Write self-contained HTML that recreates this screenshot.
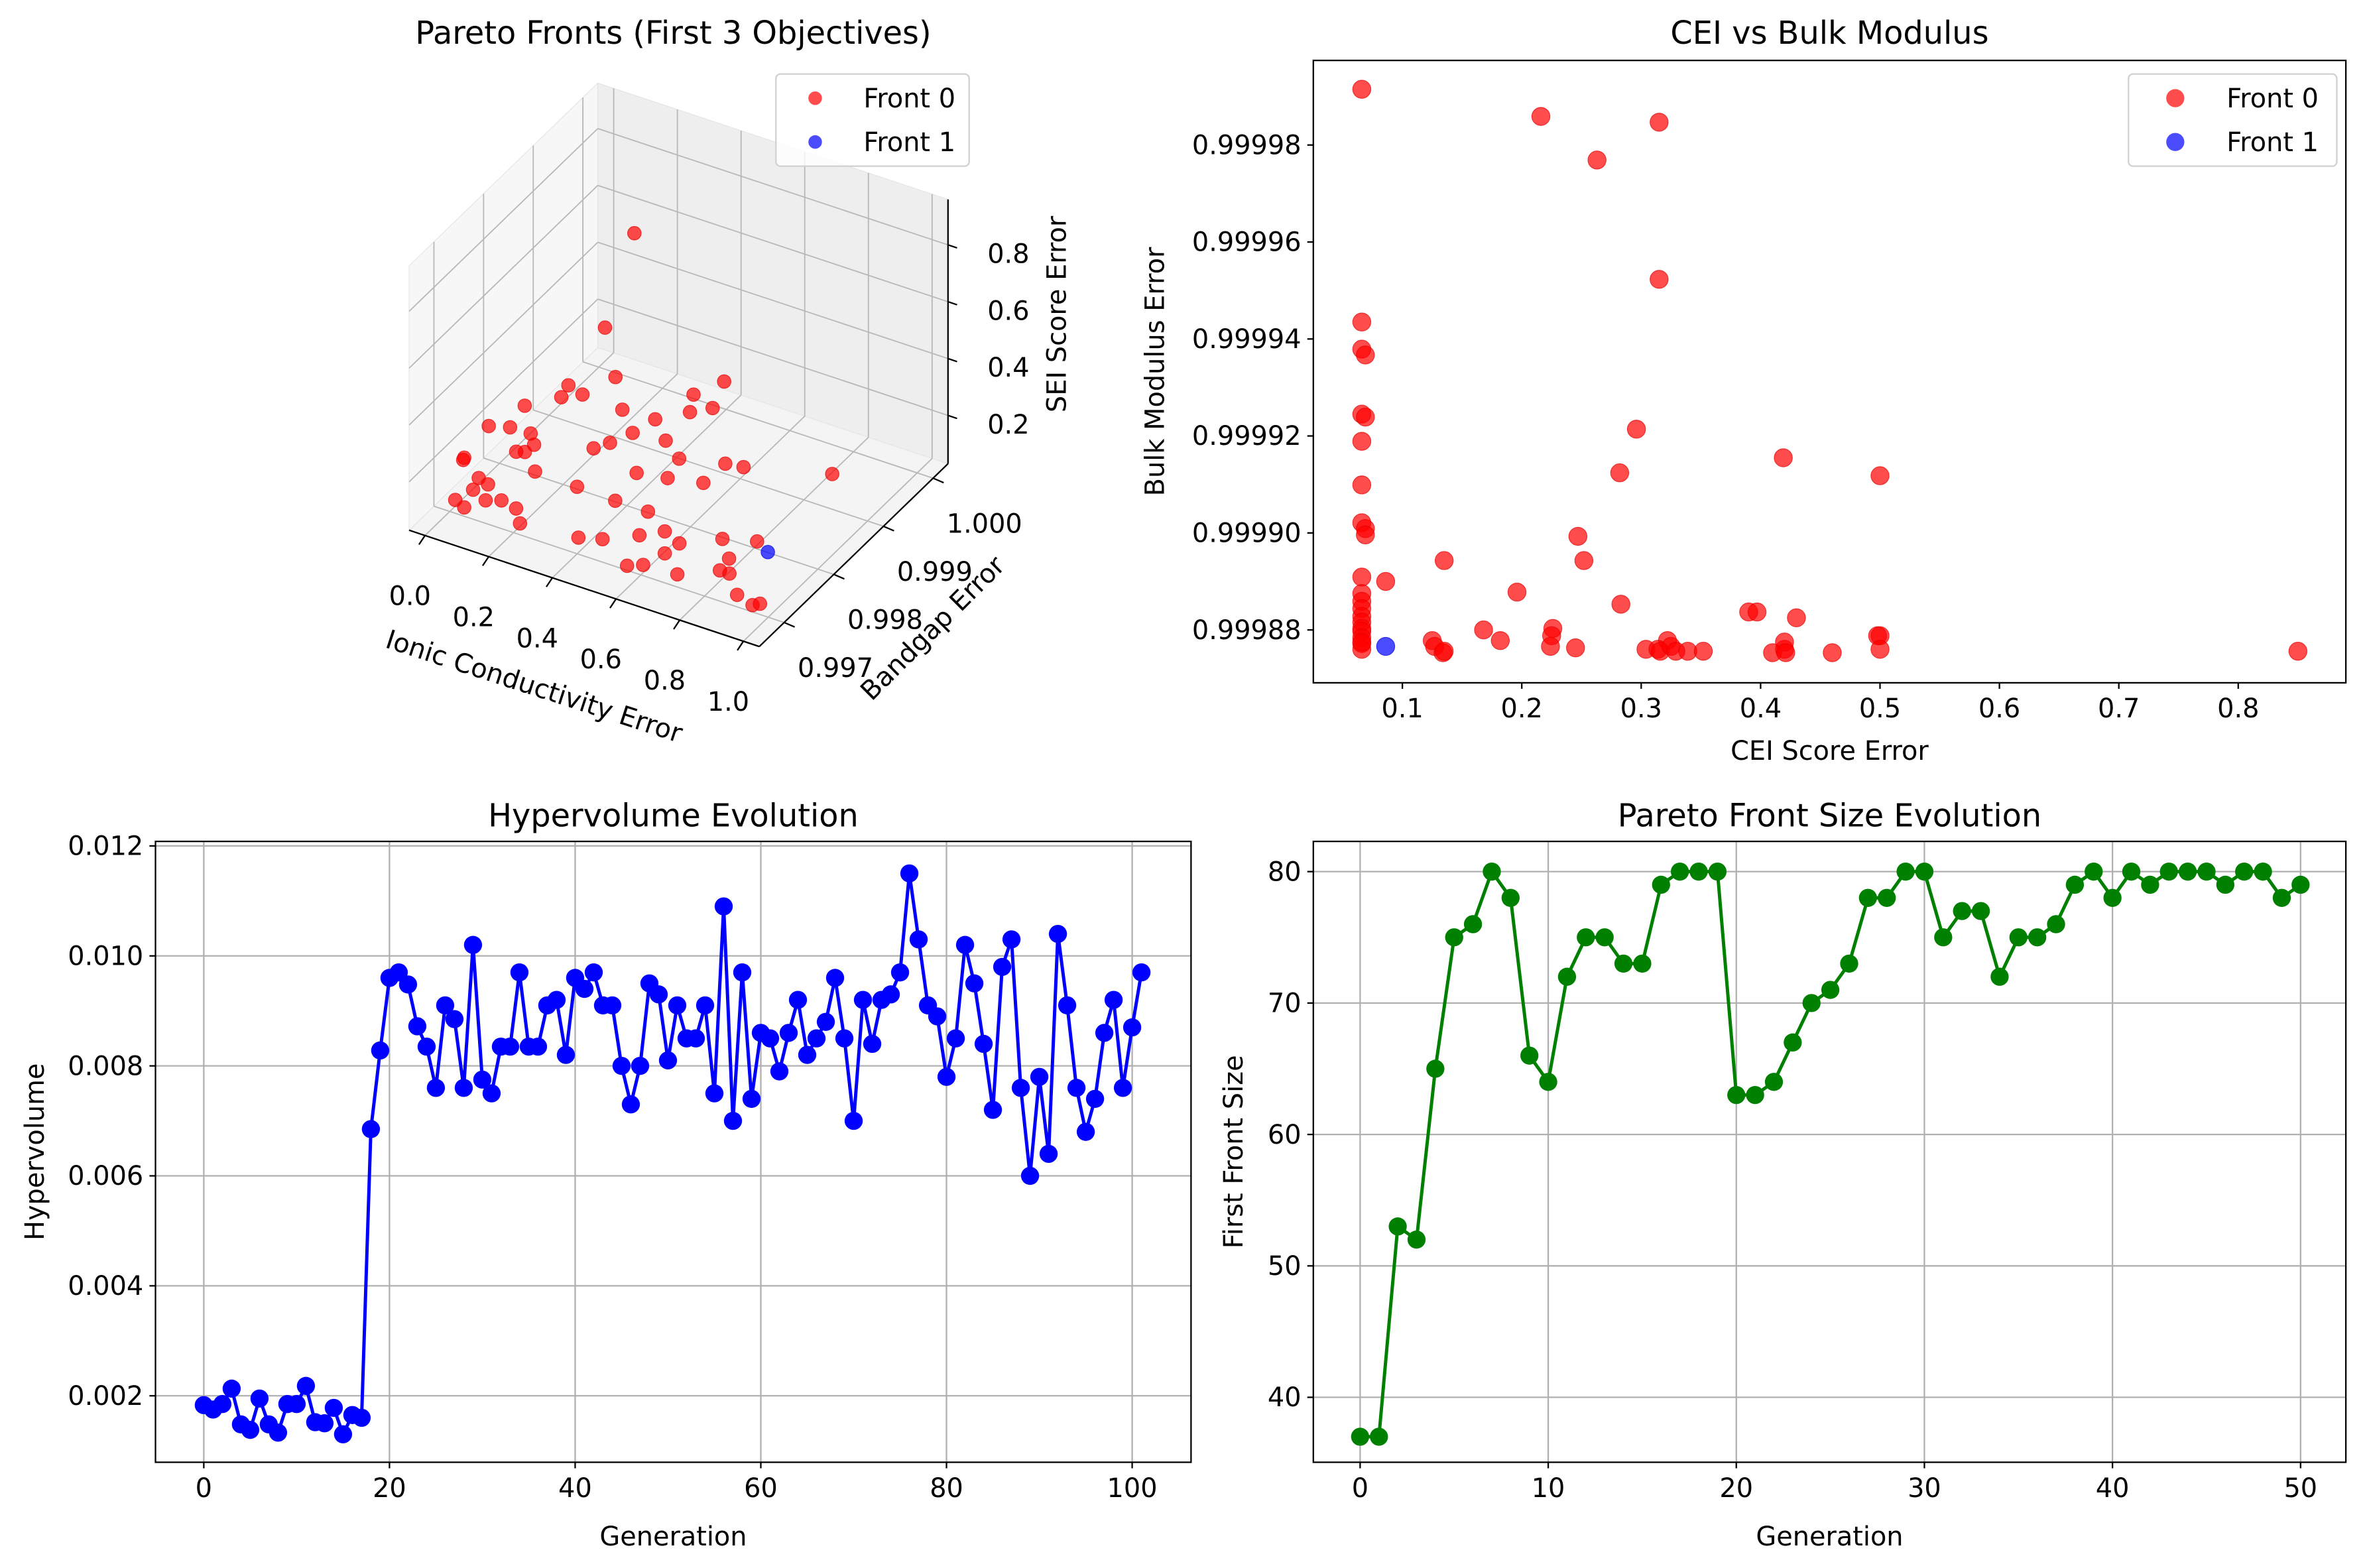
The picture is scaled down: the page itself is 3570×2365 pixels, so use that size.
<!DOCTYPE html>
<html><head><meta charset="utf-8"><title>Pareto optimisation results</title>
<style>
html,body{margin:0;padding:0;background:#fff;}
svg{display:block;font-family:"DejaVu Sans","Liberation Sans",sans-serif;}
</style></head>
<body>
<svg id="fig" xmlns="http://www.w3.org/2000/svg" width="3570" height="2365" viewBox="0 0 1568 1038" preserveAspectRatio="none">
<rect x="0" y="0" width="1568" height="1038" fill="#fff"/>
</svg>
<script>
// ---------- DATA ----------
// Panel 1: 3D Pareto fronts
const front0Ionic = [0.0,0.003,0.083,0.12,0.098,0.153,0.081,0.12,0.19,0.244,0.289,0.077,0.13,0.193,0.132,0.128,0.107,0.112,0.165,0.177,0.22,0.255,0.199,0.28,0.305,0.334,0.45,0.35,0.48,0.514,0.52,0.557,0.43,0.505,0.625,0.676,0.62,0.525,0.44,0.56,0.457,0.334,0.46,0.52,0.597,0.647,0.71,0.80,0.887,0.78,0.58,0.643,0.863,0.9,0.935,0.996,1.01,0.9,0.70,0.87,0.302,0.269];
const front0Bandgap = [0.99729,0.99725,0.99705,0.9970,0.99684,0.99674,0.99659,0.99652,0.99682,0.99677,0.99656,0.99729,0.99738,0.99739,0.99785,0.99769,0.99765,0.99779,0.99833,0.99811,0.99826,0.9987,0.99744,0.9981,0.99827,0.99854,0.99825,0.99823,0.99883,0.99854,0.99919,0.99872,0.99859,0.99838,0.99854,0.99858,0.99813,0.99802,0.99794,0.9974,0.9974,0.99742,0.99664,0.99674,0.99699,0.99718,0.99707,0.99736,0.9975,0.99658,0.99685,0.99677,0.99709,0.99686,0.99679,0.99671,0.99677,0.99893,0.99684,0.99686,0.99878,0.9984];
const front0Sei = [0.17,0.17,0.17,0.17,0.17,0.17,0.17,0.17,0.17,0.17,0.17,0.31,0.31,0.31,0.17,0.17,0.17,0.31,0.31,0.31,0.31,0.31,0.17,0.17,0.17,0.17,0.31,0.31,0.31,0.31,0.31,0.31,0.17,0.17,0.17,0.17,0.17,0.17,0.17,0.17,0.17,0.17,0.17,0.17,0.17,0.17,0.17,0.17,0.17,0.17,0.08,0.12,0.17,0.17,0.12,0.12,0.12,0.17,0.17,0.17,0.82,0.54];
const front1Ionic = [0.938];
const front1Bandgap = [0.99739];
const front1Sei = [0.17];
const ionicTicks = [0.0,0.2,0.4,0.6,0.8,1.0];
const bandgapTicks = [0.997,0.998,0.999,1.000];
const seiTicks = [0.2,0.4,0.6,0.8];

// Panel 2: CEI vs Bulk Modulus
const cei0 = [0.066,0.216,0.315,0.263,0.315,0.066,0.066,0.069,0.066,0.069,0.066,0.296,0.419,0.5,0.066,0.282,0.066,0.069,0.069,0.247,0.086,0.252,0.135,0.066,0.196,0.066,0.066,0.066,0.283,0.39,0.397,0.43,0.066,0.066,0.066,0.134,0.168,0.182,0.226,0.225,0.498,0.066,0.066,0.066,0.066,0.125,0.127,0.135,0.224,0.245,0.322,0.304,0.314,0.316,0.325,0.329,0.339,0.352,0.42,0.42,0.41,0.421,0.46,0.5,0.5,0.85,0.066];
const bulk0 = [0.9999915,0.9999859,0.9999847,0.9999769,0.9999523,0.9999435,0.9999379,0.9999367,0.9999245,0.9999239,0.9999189,0.9999214,0.9999155,0.9999118,0.9999099,0.9999124,0.9999021,0.9999009,0.9998996,0.9998993,0.9998900,0.9998943,0.9998943,0.9998909,0.9998878,0.9998875,0.9998859,0.9998844,0.9998853,0.9998837,0.9998837,0.9998825,0.9998828,0.9998816,0.9998803,0.9998753,0.9998800,0.9998778,0.9998803,0.9998788,0.9998788,0.9998797,0.9998784,0.9998772,0.9998760,0.9998778,0.9998766,0.9998756,0.9998766,0.9998763,0.9998778,0.9998760,0.9998760,0.9998756,0.9998766,0.9998756,0.9998756,0.9998756,0.9998760,0.9998775,0.9998753,0.9998753,0.9998753,0.9998788,0.9998760,0.9998756,0.9998775];
const cei1 = [0.086];
const bulk1 = [0.9998766];
const ceiTicks = [0.1,0.2,0.3,0.4,0.5,0.6,0.7,0.8];
const bulkTicks = [0.99988,0.99990,0.99992,0.99994,0.99996,0.99998];

// Panel 3: Hypervolume evolution
const hvValues = [0.00183,0.00175,0.00185,0.00213,0.00148,0.00138,0.00195,0.00148,0.00133,0.00185,0.00185,0.00218,0.00152,0.0015,0.00178,0.0013,0.00165,0.0016,0.00685,0.00828,0.0096,0.0097,0.00948,0.00872,0.00835,0.0076,0.0091,0.00885,0.0076,0.0102,0.00775,0.0075,0.00835,0.00835,0.0097,0.00835,0.00835,0.0091,0.0092,0.0082,0.0096,0.0094,0.0097,0.0091,0.0091,0.008,0.0073,0.008,0.0095,0.0093,0.0081,0.0091,0.0085,0.0085,0.0091,0.0075,0.0109,0.0070,0.0097,0.0074,0.0086,0.0085,0.0079,0.0086,0.0092,0.0082,0.0085,0.0088,0.0096,0.0085,0.0070,0.0092,0.0084,0.0092,0.0093,0.0097,0.0115,0.0103,0.0091,0.0089,0.0078,0.0085,0.0102,0.0095,0.0084,0.0072,0.0098,0.0103,0.0076,0.0060,0.0078,0.0064,0.0104,0.0091,0.0076,0.0068,0.0074,0.0086,0.0092,0.0076,0.0087,0.0097];
const hvXTicks = [0,20,40,60,80,100];
const hvYTicks = [0.002,0.004,0.006,0.008,0.010,0.012];

// Panel 4: Front size evolution
const fsValues = [37,37,53,52,65,75,76,80,78,66,64,72,75,75,73,73,79,80,80,80,63,63,64,67,70,71,73,78,78,80,80,75,77,77,72,75,75,76,79,80,78,80,79,80,80,80,79,80,80,78,79];
const fsXTicks = [0,10,20,30,40,50];
const fsYTicks = [40,50,60,70,80];

// ---------- HELPERS ----------
const NS = 'http://www.w3.org/2000/svg';
const svg = document.getElementById('fig');
function mk(tag, attrs, parent) {
  const e = document.createElementNS(NS, tag);
  for (const k in attrs) e.setAttribute(k, attrs[k]);
  (parent || svg).appendChild(e);
  return e;
}
function txt(x, y, s, size, anchor, parent, rot) {
  const t = mk('text', {x: x, y: y, 'font-size': size, 'text-anchor': anchor, fill: '#000'}, parent);
  if (rot) t.setAttribute('transform', 'rotate(' + rot + ' ' + x + ' ' + y + ')');
  t.textContent = s;
  return t;
}
function group(name) {
  const g = mk('g', {});
  
  
  return g;
}
const TS = 17.5;
const TT = 21;

// ---------- PANEL 1: 3D ----------
(function () {
  const g = group('pareto-3d-panel');
  const O = [271, 351], X = [232, 77], Y = [125, -121], Z = [0, -175];
  const xn = v => (v + 0.05) / 1.1;
  const yn = v => (v - 0.9965) / 0.0038;
  const zn = v => (v - 0.03) / 0.93;
  function P(a, b, c) { return [O[0] + a * X[0] + b * Y[0] + c * Z[0], O[1] + a * X[1] + b * Y[1] + c * Z[1]]; }
  function poly(pts, fill, name) {
    const p = mk('polygon', {points: pts.map(q => q.join(',')).join(' '), fill: fill, stroke: '#e4e4e4', 'stroke-width': 0.5}, g);
    
    
  }
  poly([P(0,0,0), P(1,0,0), P(1,1,0), P(0,1,0)], '#f4f4f4', 'floor-pane');
  poly([P(0,0,0), P(0,1,0), P(0,1,1), P(0,0,1)], '#f7f7f7', 'left-wall-pane');
  poly([P(0,1,0), P(1,1,0), P(1,1,1), P(0,1,1)], '#eeeeee', 'back-wall-pane');
  function line(a, b, name, color, w) {
    const l = mk('line', {x1: a[0], y1: a[1], x2: b[0], y2: b[1], stroke: color || '#b8b8b8', 'stroke-width': w || 0.8}, g);
    
    
  }
  ionicTicks.forEach(v => {
    const a = xn(v);
    line(P(a,0,0), P(a,1,0), 'floor-grid-x');
    line(P(a,1,0), P(a,1,1), 'back-grid-x');
    const q = P(a,0,0);
    line(q, [q[0] - 4, q[1] + 6], 'ionic-tick', '#000', 1);
    const t = txt(q[0] - 10, q[1] + 46, v.toFixed(1), TS, 'middle', g);
    
    
  });
  bandgapTicks.forEach(v => {
    const b = yn(v);
    line(P(0,b,0), P(1,b,0), 'floor-grid-y');
    line(P(0,b,0), P(0,b,1), 'left-grid-y');
    const q = P(1,b,0);
    line(q, [q[0] + 7, q[1] + 3], 'bandgap-tick', '#000', 1);
    const t = txt(q[0] + 34, q[1] + 36, v.toFixed(3), TS, 'middle', g);
    
    
  });
  seiTicks.forEach(v => {
    const c = zn(v);
    line(P(0,0,c), P(0,1,c), 'left-grid-z');
    line(P(0,1,c), P(1,1,c), 'back-grid-z');
    const q = P(1,1,c);
    line(q, [q[0] + 6, q[1] + 2], 'sei-tick', '#000', 1);
    const t = txt(q[0] + 40, q[1] + 12, v.toFixed(1), TS, 'middle', g);
    
    
  });
  line(P(0,0,0), P(1,0,0), 'ionic-axis-line', '#000', 1);
  line(P(1,0,0), P(1,1,0), 'bandgap-axis-line', '#000', 1);
  line(P(1,1,0), P(1,1,1), 'sei-axis-line', '#000', 1);
  front0Ionic.forEach((v, i) => {
    const q = P(xn(v), yn(front0Bandgap[i]), zn(front0Sei[i]));
    const c = mk('circle', {cx: q[0], cy: q[1], r: 4.5, fill: 'rgba(255,0,0,0.7)', stroke: 'rgba(230,0,0,0.7)', 'stroke-width': 0.5}, g);
    
    
  });
  front1Ionic.forEach((v, i) => {
    const q = P(xn(v), yn(front1Bandgap[i]), zn(front1Sei[i]));
    const c = mk('circle', {cx: q[0], cy: q[1], r: 4.5, fill: 'rgba(0,0,255,0.7)', stroke: 'rgba(0,0,230,0.7)', 'stroke-width': 0.5}, g);
    
    
  });
  let t = txt(446, 29, 'Pareto Fronts (First 3 Objectives)', TT, 'middle', g);
  
  
  t = txt(352, 460, 'Ionic Conductivity Error', TS, 'middle', g, 18);
  
  
  t = txt(622, 420, 'Bandgap Error', TS, 'middle', g, -45);
  
  
  t = txt(706, 208, 'SEI Score Error', TS, 'middle', g, -90);
  
  
  const lg = mk('rect', {x: 514, y: 49, width: 128, height: 61, rx: 3, fill: 'rgba(255,255,255,0.8)', stroke: '#d0d0d0', 'stroke-width': 1}, g);
  
  
  let c = mk('circle', {cx: 540, cy: 65, r: 4.5, fill: 'rgba(255,0,0,0.7)'}, g);
  
  
  t = txt(572, 71, 'Front 0', TS, 'start', g);
  
  
  c = mk('circle', {cx: 540, cy: 94, r: 4.5, fill: 'rgba(0,0,255,0.7)'}, g);
  
  
  t = txt(572, 100, 'Front 1', TS, 'start', g);
  
  
})();

// ---------- generic 2D axes ----------
function frame(g, x0, y0, x1, y1) {
  const r = mk('rect', {x: x0, y: y0, width: x1 - x0, height: y1 - y0, fill: 'none', stroke: '#000', 'stroke-width': 1}, g);
  
  
}
function xTicks(g, ticks, fx, y0, y1, fmt, grid) {
  ticks.forEach(v => {
    const x = fx(v);
    if (grid) {
      const gl = mk('line', {x1: x, y1: y0, x2: x, y2: y1, stroke: '#b0b0b0', 'stroke-width': 1}, g);
      
      
    }
    const tk = mk('line', {x1: x, y1: y1, x2: x, y2: y1 + 4, stroke: '#000', 'stroke-width': 1}, g);
    
    
    const t = txt(x, y1 + 23, fmt(v), TS, 'middle', g);
    
    
  });
}
function yTicks(g, ticks, fy, x0, x1, fmt, grid) {
  ticks.forEach(v => {
    const y = fy(v);
    if (grid) {
      const gl = mk('line', {x1: x0, y1: y, x2: x1, y2: y, stroke: '#b0b0b0', 'stroke-width': 1}, g);
      
      
    }
    const tk = mk('line', {x1: x0 - 4, y1: y, x2: x0, y2: y, stroke: '#000', 'stroke-width': 1}, g);
    
    
    const t = txt(x0 - 8, y + 6, fmt(v), TS, 'end', g);
    
    
  });
}

// ---------- PANEL 2: CEI vs Bulk ----------
(function () {
  const g = group('cei-vs-bulk-panel');
  const fx = v => 929 + (v - 0.1) * 791;
  const fy = v => 417 - (v - 0.99988) * 3210000;
  xTicks(g, ceiTicks, fx, 40, 452, v => v.toFixed(1), false);
  yTicks(g, bulkTicks, fy, 870, 1554, v => v.toFixed(5), false);
  cei0.forEach((v, i) => {
    const c = mk('circle', {cx: fx(v), cy: fy(bulk0[i]), r: 6, fill: 'rgba(255,0,0,0.7)', stroke: 'rgba(230,0,0,0.7)', 'stroke-width': 0.5}, g);
    
    
  });
  cei1.forEach((v, i) => {
    const c = mk('circle', {cx: fx(v), cy: fy(bulk1[i]), r: 6, fill: 'rgba(0,0,255,0.7)', stroke: 'rgba(0,0,230,0.7)', 'stroke-width': 0.5}, g);
    
    
  });
  frame(g, 870, 40, 1554, 452);
  let t = txt(1212, 29, 'CEI vs Bulk Modulus', TT, 'middle', g);
  
  
  t = txt(1212, 503, 'CEI Score Error', TS, 'middle', g);
  
  
  t = txt(771, 246, 'Bulk Modulus Error', TS, 'middle', g, -90);
  
  
  const lg = mk('rect', {x: 1410, y: 49, width: 138, height: 61, rx: 3, fill: 'rgba(255,255,255,0.8)', stroke: '#d0d0d0', 'stroke-width': 1}, g);
  
  
  let c = mk('circle', {cx: 1441, cy: 65, r: 6, fill: 'rgba(255,0,0,0.7)'}, g);
  
  
  t = txt(1475, 71, 'Front 0', TS, 'start', g);
  
  
  c = mk('circle', {cx: 1441, cy: 94, r: 6, fill: 'rgba(0,0,255,0.7)'}, g);
  
  
  t = txt(1475, 100, 'Front 1', TS, 'start', g);
  
  
})();

// ---------- line panels ----------
function linePanel(name, vals, fx, fy, xt, yt, yfmt, color, box, title, xl, yl, ylx) {
  const g = group(name);
  xTicks(g, xt, fx, box[1], box[3], v => String(v), true);
  yTicks(g, yt, fy, box[0], box[2], yfmt, true);
  const pts = vals.map((v, i) => fx(i) + ',' + fy(v)).join(' ');
  const pl = mk('polyline', {points: pts, fill: 'none', stroke: color, 'stroke-width': 2.2}, g);
  
  
  vals.forEach((v, i) => {
    const c = mk('circle', {cx: fx(i), cy: fy(v), r: 6, fill: color}, g);
    
    
  });
  frame(g, box[0], box[1], box[2], box[3]);
  let t = txt((box[0] + box[2]) / 2, 547, title, TT, 'middle', g);
  
  
  t = txt((box[0] + box[2]) / 2, 1023, xl, TS, 'middle', g);
  
  
  t = txt(ylx, (box[1] + box[3]) / 2, yl, TS, 'middle', g, -90);
  
  
}
linePanel('hypervolume-panel', hvValues, g => 135 + g * 6.15, v => 924 - (v - 0.002) * 36400,
  hvXTicks, hvYTicks, v => v.toFixed(3), '#0000ff', [103, 557, 789, 968],
  'Hypervolume Evolution', 'Generation', 'Hypervolume', 29);
linePanel('front-size-panel', fsValues, g => 901 + g * 12.46, v => 925 - (v - 40) * 8.7,
  fsXTicks, fsYTicks, v => String(v), '#008000', [870, 557, 1554, 968],
  'Pareto Front Size Evolution', 'Generation', 'First Front Size', 823);
</script>
</body></html>
